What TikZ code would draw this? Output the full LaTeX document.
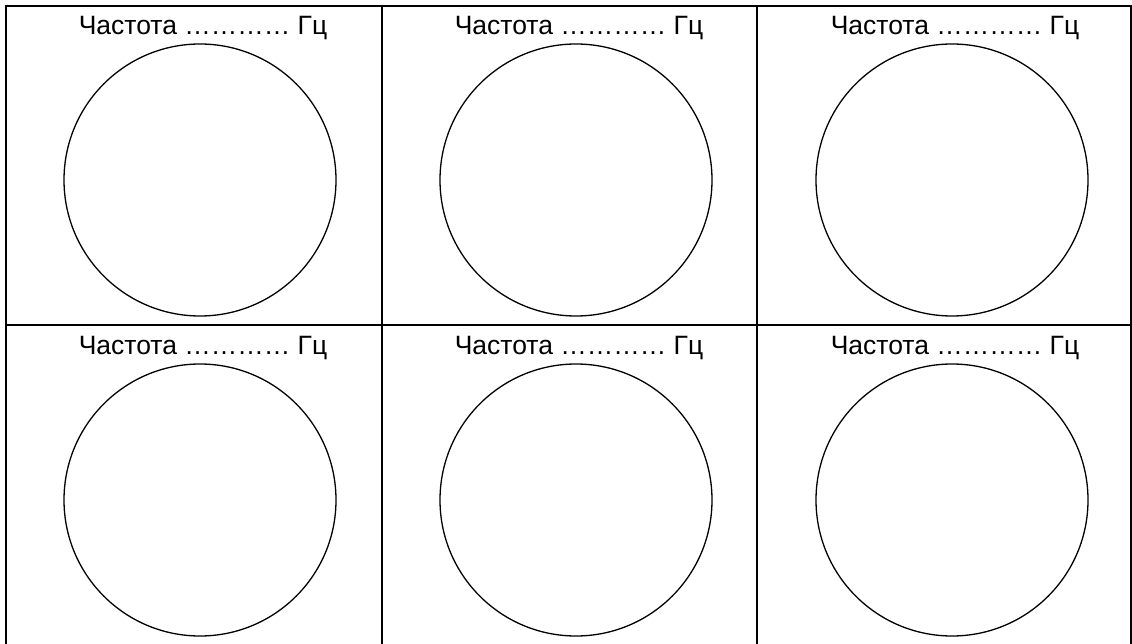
\documentclass[tikz,border=0pt]{standalone}
\usepackage{fontspec}
\setmainfont{Liberation Sans}
\begin{document}
\begin{tikzpicture}[x=1pt,y=-1pt,
  grid/.style={line width=1.8pt,black},
  ring/.style={line width=1.3pt,black},
  lbl/.style={anchor=base,inner sep=0pt,font=\fontsize{26.5}{31}\selectfont}]
\useasboundingbox (0,0) rectangle (1132,644);
% table lines
\draw[grid] (6,646) -- (6,6) -- (1131,6) -- (1131,646);
\draw[grid] (382,6) -- (382,646);
\draw[grid] (757,6) -- (757,646);
\draw[grid] (6,325) -- (1131,325);
% row 1
\node[lbl] (t1) at (203,35) {Частота ………… Гц};
\node[lbl] (t2) at (579,35) {Частота ………… Гц};
\node[lbl] (t3) at (955,35) {Частота ………… Гц};
\draw[ring] (200,180) circle[radius=136];
\draw[ring] (576,180) circle[radius=136];
\draw[ring] (952,180) circle[radius=136];
% row 2
\node[lbl] (t4) at (203,354) {Частота ………… Гц};
\node[lbl] (t5) at (579,354) {Частота ………… Гц};
\node[lbl] (t6) at (955,354) {Частота ………… Гц};
\draw[ring] (200,500) circle[radius=136];
\draw[ring] (576,500) circle[radius=136];
\draw[ring] (952,500) circle[radius=136];
\end{tikzpicture}
\end{document}
